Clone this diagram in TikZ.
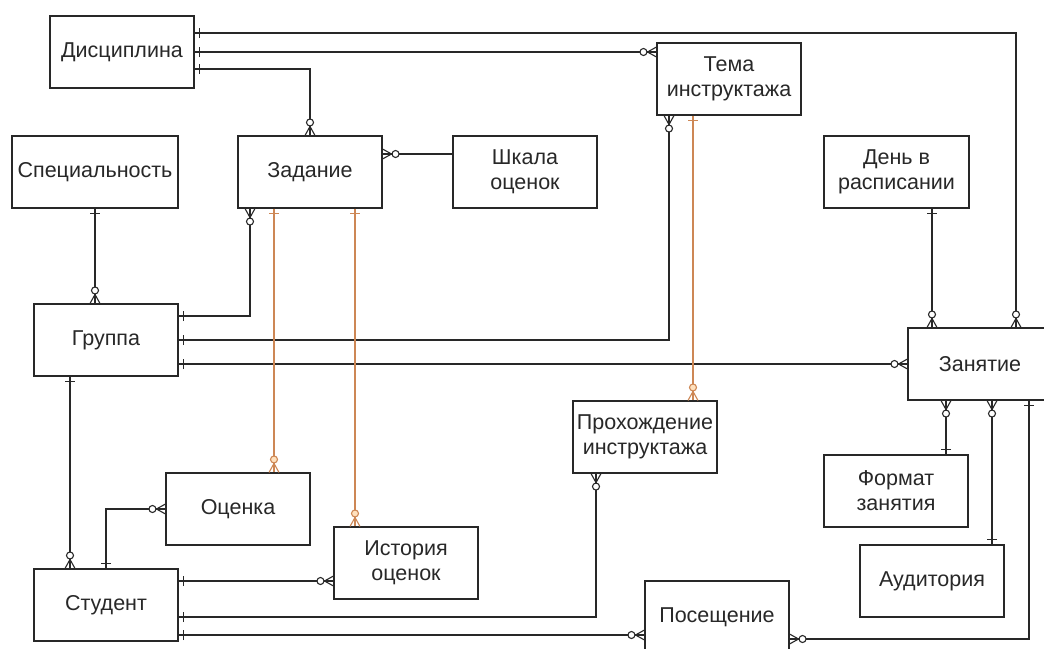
\documentclass[tikz,border=0pt]{standalone}
\usepackage{fontspec}
\setmainfont{Liberation Sans}
\usetikzlibrary{positioning,calc}
\definecolor{ink}{RGB}{40,40,40}
\definecolor{rel}{RGB}{205,135,85}
\definecolor{relfill}{RGB}{255,225,190}

\begin{document}
\begin{tikzpicture}[
    x=1pt, y=-1pt,
    entity/.style={draw=ink, line width=1.1pt, fill=white, minimum width=144pt, minimum height=72pt,
      inner sep=2pt, align=center, text=ink, font=\fontsize{21.5}{25}\selectfont},
    link/.style={draw=ink, line width=1.1pt},
    orlink/.style={draw=rel, line width=1.1pt},
    pics/one/.style={code={\draw[line width=1.1pt] (5pt,-5pt) -- (5pt,5pt);}},
    pics/zmany/.style={code={
      \draw[line width=1.1pt] (0pt,5pt) -- (9pt,0pt) -- (0pt,-5pt);
      \draw[line width=1.1pt, fill=#1] (13pt,0pt) circle (3.5pt);}},
    pics/zmany/.default=white,
  ]
  \useasboundingbox (0,0) rectangle (1044,648);

  \node[entity] (disc) at (122,52) {Дисциплина};
  \node[entity, minimum width=166pt] (spec) at (95,172) {Специальность};
  \node[entity] (task) at (310,172) {Задание};
  \node[entity] (scale) at (525,172) {Шкала\\оценок};
  \node[entity] (topic) at (729,79) {Тема\\инструктажа};
  \node[entity, minimum width=145pt] (day) at (896.5,172) {День в\\расписании};
  \node[entity] (group) at (106,340) {Группа};
  \node[entity] (lesson) at (980,364) {Занятие};
  \node[entity] (brief) at (645,437) {Прохождение\\инструктажа};
  \node[entity] (grade) at (238,509) {Оценка};
  \node[entity] (hist) at (406,563) {История\\оценок};
  \node[entity] (stud) at (106,605) {Студент};
  \node[entity] (visit) at (717,617) {Посещение};
  \node[entity] (form) at (896,491) {Формат\\занятия};
  \node[entity] (room) at (932,581) {Аудитория};

  % Дисциплина
  \draw[link] (disc.east |- 0,33) -| (lesson.north -| 1016,0);
  \draw[link] (disc.east |- 0,52) -- (topic.west |- 0,52);
  \draw[link] (disc.east |- 0,69) -| (task.north);
  \draw[link] (task.east |- 0,154) -- (scale.west |- 0,154);
  \draw[link] (spec.south) -- (group.north -| spec.south);
  % Группа
  \draw[link] (group.east |- 0,316) -| (task.south -| 250,0);
  \draw[link] (group.east) -| (topic.south -| 669,0);
  \draw[link] (group.east |- 0,364) -- (lesson.west);
  \draw[link] (group.south -| 70,0) -- (stud.north -| 70,0);
  % Студент
  \draw[link] (stud.north) |- (grade.west);
  \draw[link] (stud.east |- 0,581) -- (hist.west |- 0,581);
  \draw[link] (stud.east |- 0,617) -| (brief.south -| 596,0);
  \draw[link] (stud.east |- 0,635) -- (visit.west |- 0,635);
  % Занятие
  \draw[link] (day.south -| 932,0) -- (lesson.north -| 932,0);
  \draw[link] (lesson.south -| 946,0) -- (form.north -| 946,0);
  \draw[link] (lesson.south -| 992,0) -- (room.north -| 992,0);
  \draw[link] (lesson.south -| 1029,0) |- (visit.east |- 0,639);
  % grade and briefing links
  \draw[orlink] (task.south -| 274,0) -- (grade.north -| 274,0);
  \draw[orlink] (task.south -| 355,0) -- (hist.north -| 355,0);
  \draw[orlink] (topic.south -| 693,0) -- (brief.north -| 693,0);

  % ends
  \pic[ink] at (disc.east |- 0,33) {one};
  \pic[ink] at (disc.east |- 0,52) {one};
  \pic[ink] at (disc.east |- 0,69) {one};
  \pic[ink, rotate=90] at (lesson.north -| 1016,0) {zmany};
  \pic[ink, rotate=180] at (topic.west |- 0,52) {zmany};
  \pic[ink, rotate=90] at (task.north) {zmany};
  \pic[ink] at (task.east |- 0,154) {zmany};
  \pic[ink, rotate=-90] at (spec.south) {one};
  \pic[ink, rotate=90] at (group.north -| spec.south) {zmany};
  \pic[ink] at (group.east |- 0,316) {one};
  \pic[ink] at (group.east) {one};
  \pic[ink] at (group.east |- 0,364) {one};
  \pic[ink, rotate=-90] at (task.south -| 250,0) {zmany};
  \pic[ink, rotate=-90] at (topic.south -| 669,0) {zmany};
  \pic[ink, rotate=180] at (lesson.west) {zmany};
  \pic[ink, rotate=-90] at (group.south -| 70,0) {one};
  \pic[ink, rotate=90] at (stud.north -| 70,0) {zmany};
  \pic[ink, rotate=90] at (stud.north) {one};
  \pic[ink, rotate=180] at (grade.west) {zmany};
  \pic[ink] at (stud.east |- 0,581) {one};
  \pic[ink] at (stud.east |- 0,617) {one};
  \pic[ink] at (stud.east |- 0,635) {one};
  \pic[ink, rotate=180] at (hist.west |- 0,581) {zmany};
  \pic[ink, rotate=-90] at (brief.south -| 596,0) {zmany};
  \pic[ink, rotate=180] at (visit.west |- 0,635) {zmany};
  \pic[ink, rotate=-90] at (day.south -| 932,0) {one};
  \pic[ink, rotate=90] at (lesson.north -| 932,0) {zmany};
  \pic[ink, rotate=-90] at (lesson.south -| 946,0) {zmany};
  \pic[ink, rotate=-90] at (lesson.south -| 992,0) {zmany};
  \pic[ink, rotate=-90] at (lesson.south -| 1029,0) {one};
  \pic[ink, rotate=90] at (form.north -| 946,0) {one};
  \pic[ink, rotate=90] at (room.north -| 992,0) {one};
  \pic[ink] at (visit.east |- 0,639) {zmany};
  \pic[rel, rotate=-90] at (task.south -| 274,0) {one};
  \pic[rel, rotate=-90] at (task.south -| 355,0) {one};
  \pic[rel, rotate=-90] at (topic.south -| 693,0) {one};
  \pic[rel, rotate=90] at (grade.north -| 274,0) {zmany=relfill};
  \pic[rel, rotate=90] at (hist.north -| 355,0) {zmany=relfill};
  \pic[rel, rotate=90] at (brief.north -| 693,0) {zmany=relfill};
\end{tikzpicture}
\end{document}
